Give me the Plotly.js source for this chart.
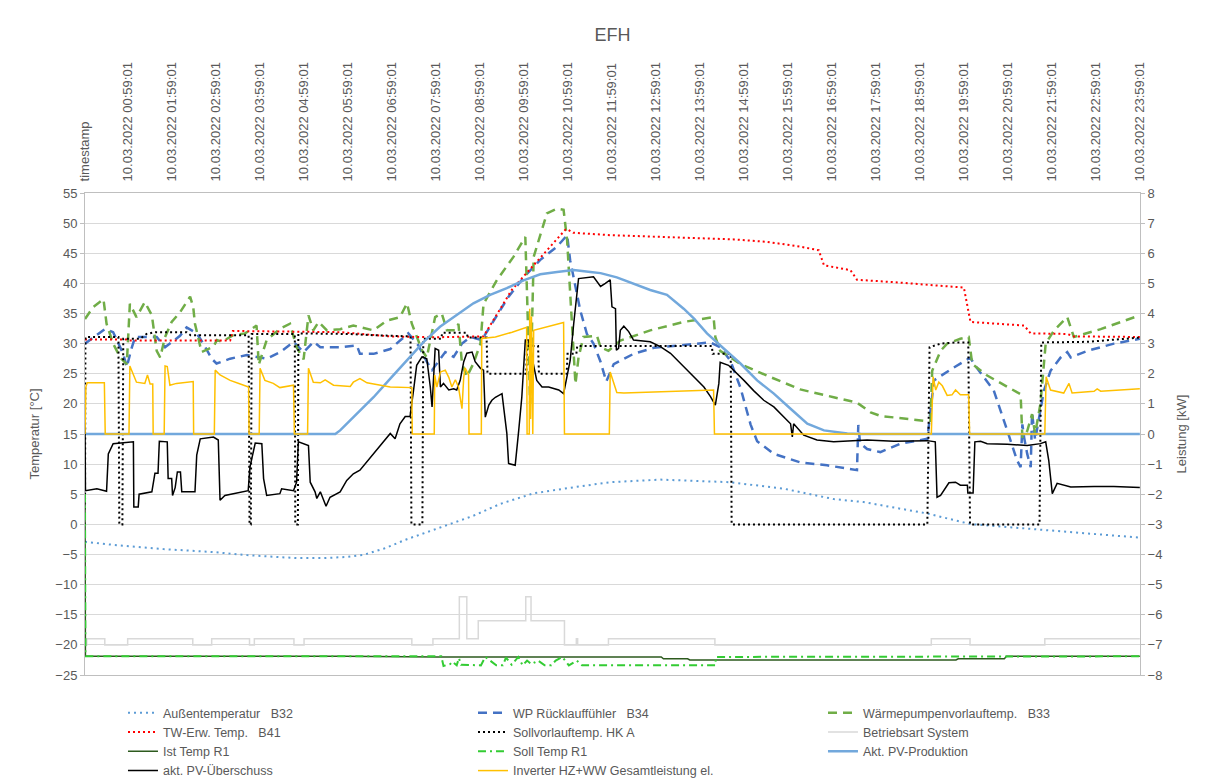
<!DOCTYPE html>
<html>
<head>
<meta charset="utf-8">
<script src="https://cdn.plot.ly/plotly-3.0.1.min.js"></script>
<style>html,body{margin:0;padding:0;background:#fff;}#chart{width:1209px;height:781px;}</style>
</head>
<body>
<div id="chart"></div>
<script>
// ---- tick labels (top axis) ----
const tickLabels = ["timestamp",
 "10.03.2022 00:59:01","10.03.2022 01:59:01","10.03.2022 02:59:01","10.03.2022 03:59:01",
 "10.03.2022 04:59:01","10.03.2022 05:59:01","10.03.2022 06:59:01","10.03.2022 07:59:01",
 "10.03.2022 08:59:01","10.03.2022 09:59:01","10.03.2022 10:59:01","10.03.2022 11:59:01",
 "10.03.2022 12:59:01","10.03.2022 13:59:01","10.03.2022 14:59:01","10.03.2022 15:59:01",
 "10.03.2022 16:59:01","10.03.2022 17:59:01","10.03.2022 18:59:01","10.03.2022 19:59:01",
 "10.03.2022 20:59:01","10.03.2022 21:59:01","10.03.2022 22:59:01","10.03.2022 23:59:01"];

// ---- series (time in hours of 10.03.2022) ----
const aussenT = [0,0.64,1.78,2.92,3.68,4.81,5.4,5.95,6.33,6.8,7.32,8.07,8.83,9.44,10.2,11.11,11.94,13.08,14.67,15.9,17.02,17.7,19.15,20.13,21.65,22.94,23.98];
const aussenV = [-2.9,-3.4,-4.1,-4.6,-5.1,-5.6,-5.6,-5.4,-5.07,-4.0,-2.46,-0.5,1.43,3.4,5.16,6.16,7.0,7.43,7.0,5.9,4.2,3.7,1.8,0.05,-0.8,-1.6,-2.2];

const ruecklaufT = [0.0,0.2,0.45,0.64,0.8,0.87,0.95,1.05,1.14,1.63,1.82,2.16,2.31,2.54,2.69,2.88,2.99,3.3,3.68,4.13,4.44,4.74,4.97,5.2,5.35,5.8,6.18,6.25,6.56,6.94,7.35,7.58,7.77,7.89,8.19,8.38,8.57,8.76,9.02,9.25,9.63,10.0,10.35,10.73,10.96,11.03,11.14,11.26,11.41,11.56,11.72,11.85,12.02,12.47,12.93,13.61,14.22,14.44,14.67,14.9,15.13,15.28,15.66,16.26,16.87,17.55,17.58,17.62,17.78,18.08,18.54,19.15,19.3,19.7,20.13,20.21,20.66,20.97,21.19,21.27,21.31,21.35,21.42,21.5,21.53,21.6,21.8,21.95,22.18,22.33,22.41,22.79,23.39,23.98];
const ruecklaufV = [30.0,31.0,32.4,31.9,29.5,28.3,26.1,29.0,31.1,31.1,29.4,31.3,32.7,31.7,30.0,27.5,26.7,27.5,28.1,27.5,28.6,30.3,28.6,30.3,29.4,29.4,29.7,28.3,28.3,29.1,31.7,29.7,27.0,25.6,28.6,27.8,30.0,31.1,30.6,33.3,37.8,41.2,43.9,46.1,48.0,43.8,40.0,35.5,31.6,30.0,27.0,23.7,26.6,28.3,29.3,29.8,30.2,29.4,27.2,22.7,16.6,13.8,11.7,10.3,9.8,9.0,16.5,13.5,12.5,12.0,13.4,14.2,23.9,25.8,27.7,26.6,22.2,15.5,10.6,9.5,16.6,14.4,11.7,9.5,18.6,14.0,22.2,25.5,27.7,28.6,27.7,28.8,30.0,30.8];

const vorlaufT = [0.0,0.19,0.42,0.49,0.64,0.8,0.95,1.02,1.17,1.36,1.52,1.63,1.71,1.82,1.97,2.16,2.39,2.46,2.5,2.65,2.92,3.0,3.11,3.37,3.64,3.9,3.95,4.13,4.44,4.66,4.81,4.97,5.08,5.19,5.31,5.5,5.8,6.1,6.56,6.86,7.16,7.32,7.43,7.66,7.77,7.96,8.11,8.23,8.42,8.49,8.57,8.68,8.83,8.99,9.06,9.36,9.74,10.01,10.05,10.12,10.2,10.5,10.73,10.88,10.96,11.07,11.15,11.22,11.33,11.64,11.72,11.9,12.17,12.85,13.61,14.29,14.33,14.44,14.9,15.5,16.26,17.02,17.55,17.86,18.08,19.07,19.22,19.26,19.45,19.6,19.9,20.09,20.17,20.51,21.27,21.31,21.42,21.53,21.6,21.72,21.84,22.03,22.33,22.48,23.09,23.98];
const vorlaufV = [34.1,36.1,37.4,33.3,30.0,27.7,26.6,36.6,34.4,36.9,34.7,28.8,27.7,31.1,33.6,35.2,37.8,36.1,33.3,28.6,29.5,30.6,30.3,31.4,31.7,33.0,26.5,30.6,32.5,33.3,29.4,27.4,34.7,32.2,33.6,32.2,32.4,33.0,32.2,33.8,34.4,36.7,33.3,28.9,27.7,34.4,35.0,32.2,32.2,33.3,26.7,24.5,26.7,30.0,36.6,40.5,44.4,47.7,38.0,20.0,44.4,51.6,52.4,52.2,47.2,33.3,23.3,27.7,31.1,31.3,29.4,28.8,30.5,32.2,33.6,34.4,31.1,28.8,26.6,24.7,22.4,21.1,20.2,18.6,18.0,17.2,17.2,25.5,28.8,30.0,30.8,31.1,26.6,24.7,21.6,14.4,15.5,18.3,15.0,20.0,30.0,32.2,34.4,31.1,32.4,34.7];

const twT = [0.0,0.95,1.0,3.3,3.36,5.8,6.94,7.92,9.06,9.7,10.0,10.92,10.96,11.1,11.94,13.23,14.75,15.5,16.26,16.68,16.8,17.4,17.55,18.39,19.98,20.13,21.35,21.5,22.33,22.48,23.98];
const twV = [30.7,30.7,30.5,30.5,32.1,31.9,31.2,31.05,31.2,38.9,41.4,48.9,49.0,48.4,48.0,47.7,47.3,46.9,46.1,45.5,43.0,42.2,40.6,40.2,39.3,33.6,33.0,31.7,31.6,31.2,31.1];

const sollVorlaufT = [0,0.01,0.76,0.78,0.85,0.87,1.25,1.4,1.6,2.31,2.4,3.72,3.74,3.77,3.79,4.77,4.78,4.84,4.85,6.0,6.56,7.40,7.42,7.67,7.69,8.1,8.12,8.68,8.7,9.13,9.15,10.03,10.05,10.3,10.32,10.95,10.97,11.17,11.19,14.25,14.27,14.68,14.70,19.15,19.2,19.45,19.8,20.08,20.12,21.7,21.74,22.8,23.98];
const sollVorlaufV = [0,31.1,31.1,0,0,30.8,30.8,31.6,31.9,31.9,31.4,31.4,0,0,31.6,31.6,0,0,31.7,31.6,31.4,31.2,0,0,30.8,30.8,31.8,31.8,31.0,31.0,25.0,25.0,29.6,29.6,25.0,25.0,28.3,28.3,29.6,29.6,28.3,28.3,0,0,29.4,30.0,30.2,30.2,0,0,30.2,30.3,31.0];

const betriebsartT = [0,0.04,0.45,0.97,2.45,2.88,3.74,3.85,4.75,4.98,7.43,7.91,8.51,8.68,8.94,10.02,10.14,10.9,11.17,11.2,11.9,14.32,19.24,20.12,21.82,23.98];
const betriebsartV = [-20,-19,-20,-19,-20,-19,-20,-19,-20,-19,-20,-19,-12,-19,-16,-12,-16,-20,-19,-20,-19,-20,-19,-20,-19,-19];

const istTempT = [0,0.01,5.9,8.0,11.72,13.1,13.15,13.7,13.75,14.7,14.75,17.3,17.35,19.8,19.85,20.9,20.95,23.98];
const istTempV = [5,-21.9,-21.9,-22.0,-22.0,-22.0,-22.3,-22.3,-22.5,-22.5,-22.6,-22.6,-22.5,-22.5,-22.3,-22.3,-21.9,-21.9];

const sollTempT = [0,0.01,8.1,8.15,8.3,8.35,8.45,8.5,8.55,8.8,9.0,9.1,9.2,9.35,9.5,9.57,9.7,9.85,9.95,10.05,10.15,10.3,10.45,10.6,10.7,10.85,11.0,11.18,11.3,14.33,14.34,23.98];
const sollTempV = [5,-21.9,-21.9,-23.5,-23.2,-22.8,-23.4,-22.2,-23.3,-23.4,-23.4,-22.0,-22.6,-23.4,-23.4,-22.1,-23.3,-22.0,-23.4,-22.6,-23.2,-22.6,-23.4,-23.4,-22.6,-22.0,-23.4,-22.6,-23.4,-23.4,-22.0,-21.9];

// power series (kW, right axis)
const pvProdT = [0,5.69,5.8,6.18,6.56,6.94,7.32,7.7,8.07,8.45,8.83,9.21,9.59,9.97,10.35,10.73,11.11,11.49,11.72,12.09,12.47,12.85,13.23,13.61,13.84,14.14,14.52,14.9,15.28,15.66,16.04,16.42,16.8,17.33,17.6,23.98];
const pvProdKW = [0,0,0.12,0.66,1.22,1.84,2.44,3.06,3.56,3.94,4.34,4.62,4.84,5.1,5.3,5.38,5.44,5.38,5.34,5.2,5.0,4.78,4.62,4.16,3.84,3.34,2.84,2.34,1.78,1.34,0.84,0.34,0.12,0.02,0,0];

const pvUeberT = [0,0.01,0.27,0.49,0.53,0.64,1.10,1.11,1.21,1.23,1.52,1.59,1.66,1.69,1.87,1.89,1.97,1.99,2.05,2.10,2.17,2.20,2.50,2.54,2.62,2.92,3.03,3.07,3.18,3.37,3.71,3.75,3.87,4.02,4.06,4.13,4.43,4.47,4.74,4.81,4.85,5.08,5.12,5.23,5.27,5.35,5.48,5.57,5.80,5.95,6.10,6.25,6.41,6.56,6.71,6.94,7.05,7.16,7.28,7.39,7.47,7.54,7.66,7.77,7.85,7.89,7.96,8.04,8.08,8.15,8.27,8.38,8.45,8.53,8.61,8.68,8.80,8.87,8.99,9.06,9.10,9.18,9.25,9.33,9.48,9.54,9.59,9.63,9.78,9.86,9.93,10.01,10.08,10.27,10.39,10.54,10.77,10.88,10.96,11.03,11.11,11.18,11.22,11.56,11.72,11.83,11.94,11.98,12.06,12.08,12.13,12.17,12.25,12.36,12.47,12.85,13.08,13.31,13.61,13.84,14.07,14.22,14.33,14.41,14.44,14.63,14.75,14.98,15.20,15.43,15.66,15.89,16.04,16.08,16.11,16.34,16.64,17.02,17.78,18.39,19.15,19.33,19.37,19.45,19.53,19.64,19.79,19.90,20.06,20.07,20.19,20.23,20.36,20.51,20.97,21.42,21.72,21.84,21.91,21.99,22.10,22.41,22.94,23.39,23.98];
const pvUeberKW = [0.34,-1.88,-1.82,-1.9,-0.66,-0.32,-0.26,-2.42,-2.42,-2.0,-1.92,-1.3,-1.3,-0.24,-0.26,-1.48,-1.48,-2.04,-1.78,-1.26,-1.26,-1.92,-1.92,-0.7,-0.16,-0.1,-0.2,-2.2,-2.04,-1.98,-1.88,-1.1,-0.3,-0.32,-1.48,-2.04,-1.98,-1.82,-1.88,-1.6,-0.26,-0.38,-1.6,-1.92,-2.14,-1.92,-2.4,-2.1,-1.92,-1.54,-1.32,-1.2,-0.92,-0.66,-0.38,0.02,-0.16,0.34,0.58,0.58,1.46,2.28,2.56,2.5,1.56,0.9,2.84,2.78,1.56,1.68,1.46,1.5,1.46,1.78,2.4,2.68,2.72,2.4,2.18,2.12,0.56,0.96,1.12,1.22,1.34,0.52,0.02,-0.98,-1.04,0.12,1.22,3.12,3.12,1.78,1.56,1.56,1.46,1.34,1.9,2.44,3.66,4.66,5.16,5.22,4.9,5.0,5.12,4.22,4.16,2.78,2.84,3.44,3.58,3.4,3.12,3.06,2.9,2.68,2.24,1.9,1.56,1.24,0.96,1.68,2.38,2.28,2.12,1.78,1.44,1.12,0.9,0.56,0.34,-0.1,0.34,-0.04,-0.2,-0.26,-0.2,-0.24,-0.22,-0.26,-2.1,-2.04,-1.88,-1.62,-1.6,-1.7,-1.7,-1.96,-1.96,-0.26,-0.24,-0.32,-0.34,-0.38,-0.32,-0.26,-0.88,-1.98,-1.64,-1.76,-1.74,-1.74,-1.78];

const inverterT = [0,0.02,0.05,0.44,0.46,1.0,1.02,1.17,1.36,1.42,1.48,1.54,1.55,1.8,1.82,1.87,1.93,2.08,2.46,2.47,2.94,2.96,3.07,3.3,3.53,3.72,3.73,3.96,3.98,4.09,4.28,4.43,4.74,4.76,5.06,5.08,5.19,5.35,5.46,5.65,6.03,6.1,6.25,6.41,6.94,7.43,7.44,7.94,7.95,8.0,8.08,8.19,8.27,8.34,8.42,8.49,8.57,8.61,8.64,8.72,8.73,9.01,9.02,9.33,9.71,10.04,10.05,10.1,10.11,10.13,10.15,10.18,10.2,10.5,10.88,10.9,11.92,11.94,12.09,12.25,13.23,14.29,14.31,19.24,19.28,19.34,19.41,19.49,19.6,19.71,19.79,19.9,20.09,20.11,21.82,21.85,21.95,22.25,22.37,22.44,22.94,23.01,23.09,23.54,23.98];
const inverterKW = [0,1.56,1.7,1.7,0,0,2.26,1.72,1.68,1.96,1.66,1.66,0,0,2.26,2.24,1.62,1.68,1.74,0,0,2.12,1.96,1.78,1.66,1.56,0,0,2.18,1.78,1.68,1.54,1.62,0,0,2.18,1.72,1.7,1.8,1.62,1.58,1.72,1.84,1.7,1.56,1.54,0,0,1.96,1.56,2.06,2.12,1.88,1.56,1.8,1.56,0.84,1.88,2.2,1.96,0,0,3.17,3.22,3.38,3.54,0,0,4.16,0.5,3.9,0,3.44,3.55,3.7,0,0,2.06,1.38,1.36,1.4,1.46,0,0,1.9,1.46,1.72,1.6,1.28,1.3,1.46,1.3,1.3,0,0,1.9,1.46,1.36,1.68,1.36,1.42,1.5,1.42,1.46,1.5];

// ---- traces ----
const sp = '\u00a0\u00a0\u00a0';
const traces = [
  {name:'Außentemperatur' + sp + 'B32', x:aussenT, y:aussenV, line:{color:'#5b9bd5', width:2, dash:'2px,4px'}},
  {name:'WP Rücklauffühler' + sp + 'B34', x:ruecklaufT, y:ruecklaufV, line:{color:'#4472c4', width:2.5, dash:'9px,6px'}},
  {name:'Wärmepumpenvorlauftemp.' + sp + 'B33', x:vorlaufT, y:vorlaufV, line:{color:'#70ad47', width:2.5, dash:'9px,6px'}},
  {name:'TW-Erw. Temp.' + sp + 'B41', x:twT, y:twV, line:{color:'#ff0000', width:2, dash:'2px,3px'}},
  {name:'Sollvorlauftemp. HK A', x:sollVorlaufT, y:sollVorlaufV, line:{color:'#000000', width:2, dash:'2px,3px'}},
  {name:'Betriebsart System', x:betriebsartT, y:betriebsartV, line:{color:'#d9d9d9', width:1.5, shape:'hv'}},
  {name:'Ist Temp R1', x:istTempT, y:istTempV, line:{color:'#2d5a1e', width:1.5}},
  {name:'Soll Temp R1', x:sollTempT, y:sollTempV, line:{color:'#33cc33', width:2, dash:'8px,4px,2px,4px'}},
  {name:'Akt. PV-Produktion', x:pvProdT, y:pvProdKW, yaxis:'y2', line:{color:'#72a8dc', width:2.5}},
  {name:'akt. PV-Überschuss', x:pvUeberT, y:pvUeberKW, yaxis:'y2', line:{color:'#000000', width:1.5}},
  {name:'Inverter HZ+WW Gesamtleistung el.', x:inverterT, y:inverterKW, yaxis:'y2', line:{color:'#ffc000', width:1.5}}
].map(t => Object.assign({type:'scatter', mode:'lines', hoverinfo:'skip'}, t));

const tickPos = tickLabels.map((_, i) => i === 0 ? 0 : (i - 1) + 59/60 + 1/3600);

const layout = {
  width:1209, height:781,
  margin:{l:85, r:69, t:193, b:106, pad:0, autoexpand:false},
  paper_bgcolor:'#ffffff', plot_bgcolor:'#ffffff',
  font:{family:'"Liberation Sans", Arial, sans-serif', size:13, color:'#595959'},
  title:{text:'EFH', x:0.5, xref:'paper', xanchor:'center', y:0.955, yref:'container', yanchor:'middle', font:{size:18, color:'#595959'}},
  showlegend:true,
  legend:{orientation:'h', x:0.036, xanchor:'left', y:0.106, yref:'container', yanchor:'top',
          entrywidth:305, entrywidthmode:'pixels', font:{size:12.5, color:'#595959'}, bgcolor:'rgba(0,0,0,0)', traceorder:'normal'},
  xaxis:{range:[0, 23.984], side:'top', tickmode:'array', tickvals:tickPos, ticktext:tickLabels, tickangle:-90,
         showgrid:false, zeroline:false, showline:true, mirror:true, linecolor:'#bfbfbf', linewidth:1, ticks:'', ticklabelstandoff:8,
         tickfont:{size:13, color:'#595959'}, fixedrange:true},
  yaxis:{range:[-25, 55], tick0:0, dtick:5, gridcolor:'#d9d9d9', gridwidth:1, zeroline:false, showline:true, linecolor:'#bfbfbf',
         ticks:'outside', ticklen:4, tickcolor:'#bfbfbf', tickfont:{size:13, color:'#595959'},
         title:{text:'Temperatur [°C]', standoff:12, font:{size:13, color:'#595959'}}},
  yaxis2:{range:[-8, 8], tick0:0, dtick:1, overlaying:'y', side:'right', showgrid:false, zeroline:false, showline:true, linecolor:'#bfbfbf',
          ticks:'outside', ticklen:4, tickcolor:'#bfbfbf', tickfont:{size:13, color:'#595959'},
          title:{text:'Leistung [kW]', standoff:15, font:{size:13, color:'#595959'}}}
};

Plotly.newPlot('chart', traces, layout, {staticPlot:true, displayModeBar:false});
</script>
</body>
</html>
